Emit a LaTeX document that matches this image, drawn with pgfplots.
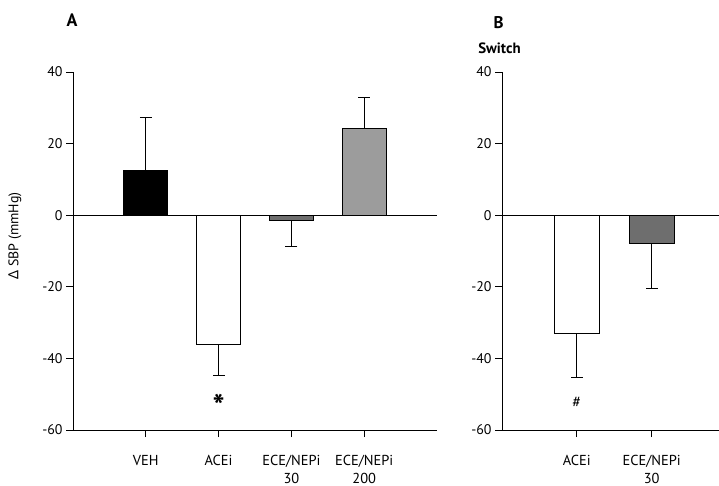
\documentclass[border=0pt]{standalone}
\usepackage{fontspec}
\setmainfont{PT Sans}
\newfontfamily\greekfont{Noto Sans}
\usepackage{pgfplots}
\pgfplotsset{compat=1.18}
\definecolor{darkbar}{HTML}{6E6E6E}
\definecolor{lightbar}{HTML}{9C9C9C}
\pgfplotsset{
  panel/.style={
    scale only axis,
    height=358bp,
    ymin=-60, ymax=40,
    ytick={-60,-40,-20,0,20,40},
    axis x line=bottom, axis y line=left,
    axis line style={-, line width=0.8bp},
    tick align=outside,
    major tick length=7bp,
    tick style={black, line width=0.8bp},
    xtick={1,2,3,4},
    /pgf/number format/assume math mode=true,
    yticklabel style={font=\fontsize{14}{15}\selectfont, xshift=0bp},
    xticklabel style={align=center, inner sep=0.5bp, font=\fontsize{14.5}{18}\selectfont, yshift=-17.5bp},
  },
  bar/.style={
    ybar, bar width=#1, bar shift=0pt, draw=black, line width=0.8bp,
    error bars/y explicit,
    error bars/error bar style={line width=0.8bp, black},
    error bars/error mark options={rotate=90, mark size=6bp, line width=0.8bp, black},
  },
}
\begin{document}
\begin{tikzpicture}
\useasboundingbox (0,0) rectangle (719bp,486bp);

\begin{axis}[panel, at={(73bp,56bp)}, anchor=south west,
  width=364bp, xmin=0, xmax=5,
  xticklabels={VEH, ACEi, ECE/NEPi\\30, ECE/NEPi\\200}]
\draw[line width=0.8bp] (axis cs:0,0) -- (axis cs:5,0);
\addplot[bar=44bp, fill=black, error bars/y dir=plus]
  coordinates {(1,12.5) +- (0,14.7)};
\addplot[bar=44bp, fill=white, error bars/y dir=minus]
  coordinates {(2,-36.0) +- (0,8.8)};
\addplot[bar=44bp, fill=darkbar, error bars/y dir=minus]
  coordinates {(3,-1.5) +- (0,7.3)};
\addplot[bar=44bp, fill=lightbar, error bars/y dir=plus]
  coordinates {(4,24.3) +- (0,8.7)};
\node[font=\fontsize{32}{32}\bfseries\selectfont] at (axis cs:2,-53.2) {*};
\end{axis}

\begin{axis}[panel, at={(502bp,56bp)}, anchor=south west,
  width=217bp, xmin=0, xmax=2.9,
  xtick={1,2},
  xticklabels={ACEi, ECE/NEPi\\30}]
\draw[line width=0.8bp] (axis cs:0,0) -- (axis cs:2.9,0);
\addplot[bar=45bp, fill=white, error bars/y dir=minus]
  coordinates {(1,-33.0) +- (0,12.2)};
\addplot[bar=45bp, fill=darkbar, error bars/y dir=minus]
  coordinates {(2,-8.0) +- (0,12.5)};
\node[font=\fontsize{16}{16}\selectfont] at (axis cs:1,-52.4) {\#};
\end{axis}

\node[font=\fontsize{18}{18}\bfseries\selectfont] at (72bp,466bp) {A};
\node[font=\fontsize{17}{17}\bfseries\selectfont] at (498.5bp,463.5bp) {B};
\node[font=\fontsize{15}{15}\bfseries\selectfont] at (499.5bp,438bp) {Switch};
\node[rotate=90, font=\fontsize{14}{15}\selectfont] at (15bp,250bp) {{\greekfont Δ} SBP (mmHg)};
\end{tikzpicture}
\end{document}
